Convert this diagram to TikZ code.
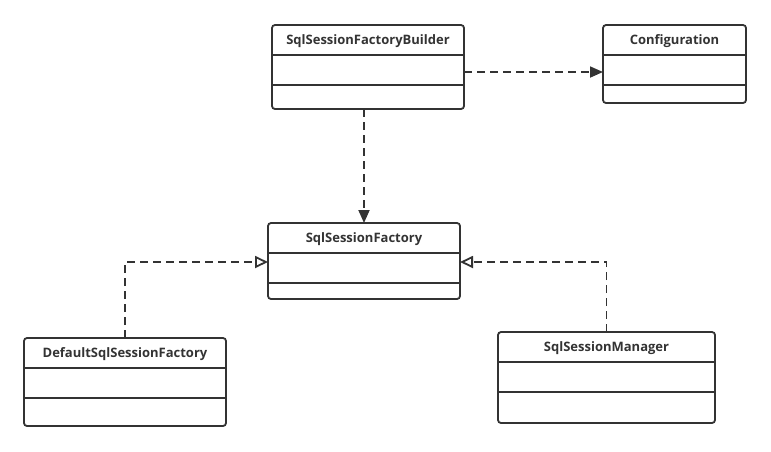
\documentclass[tikz,border=0pt]{standalone}
\usepackage{fontspec}
\setmainfont{Open Sans}
\usetikzlibrary{arrows.meta}
\definecolor{ink}{HTML}{333333}
\newcommand\umlbox[8]{%
  \node[cls, minimum width=#4pt-#2pt, minimum height=#5pt-#3pt, anchor=north west] (#1) at (#2,#3) {};
  \node[ttl] (#1-t) at ({(#2+#4)/2},{(#3+#6)/2+1}) {#8};
  \draw[divl] (#2,#6) -- (#4,#6);
  \draw[divl] (#2,#7) -- (#4,#7);
}
\begin{document}
\begin{tikzpicture}[x=1pt,y=-1pt,
  cls/.style={draw=ink, line width=1.8pt, rounded corners=3pt, inner sep=0pt, outer sep=0pt},
  ttl/.style={font=\fontsize{13}{15}\selectfont\bfseries, text=ink, inner sep=0pt},
  divl/.style={draw=ink, line width=1.8pt},
  dep/.style={draw=ink, line width=1.8pt, dash pattern=on 8pt off 5pt, -{Triangle[length=13pt,width=11pt]}},
  real/.style={draw=ink, line width=1.8pt, dash pattern=on 8pt off 5pt, -{Triangle[open,length=13pt,width=12pt]}}]
\useasboundingbox (0,0) rectangle (771,451);
\umlbox{b}{272}{25}{464}{109}{55}{85}{SqlSessionFactoryBuilder}
\umlbox{c}{603}{25}{746}{103}{55}{85}{Configuration}
\umlbox{f}{268}{223}{460}{299}{253}{283}{SqlSessionFactory}
\umlbox{d}{24}{338}{226}{426}{368}{398}{DefaultSqlSessionFactory}
\umlbox{m}{498}{332}{715}{423}{362}{392}{SqlSessionManager}
\draw[dep] (b.east |- 0,72) -- (c.west |- 0,72);
\draw[dep] ([xshift=-4pt]b.south) -- ([xshift=-4pt]b.south |- f.north);
\draw[real] (d.north) |- (f.west |- 0,262);
\draw[real] (m.north) |- (f.east |- 0,262);
\end{tikzpicture}
\end{document}
